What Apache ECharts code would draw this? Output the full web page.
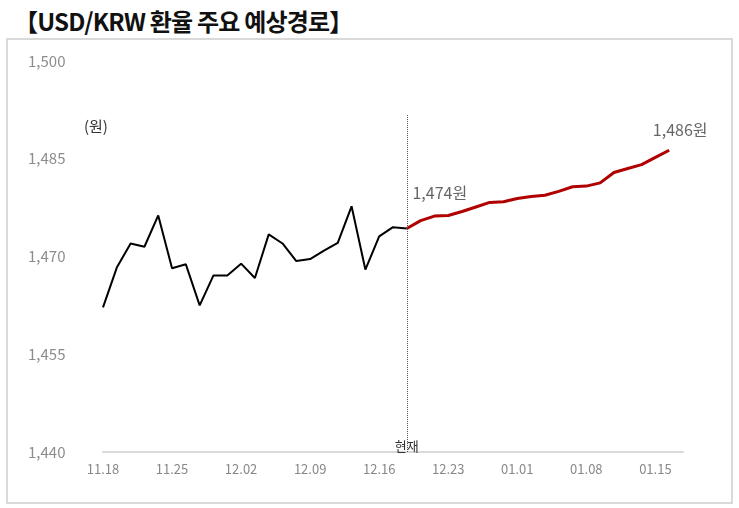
<!DOCTYPE html>
<html>
<head>
<meta charset="utf-8">
<script src="https://cdn.jsdelivr.net/npm/echarts@6/dist/echarts.min.js"></script>
<style>
body{margin:0;background:#fff;font-family:"Noto Sans CJK KR","Noto Sans",sans-serif;}
.title{position:absolute;left:14px;top:3px;font-size:24px;font-weight:600;color:#111;letter-spacing:-0.8px;}
.box{position:absolute;left:6px;top:38px;width:727px;height:466px;border:2px solid #d9d9d9;box-sizing:border-box;}
#chart{position:absolute;left:0;top:0;width:739px;height:508px;}
</style>
</head>
<body>
<div class="title">【USD/KRW 환율 주요 예상경로】</div>
<div class="box"></div>
<div id="chart"></div>
<script>
// x축 눈금 (5영업일마다)
var tickLabels=['11.18','11.25','12.02','12.09','12.16','12.23','01.01','01.08','01.15'];
// 실제 환율 (11.18 ~ 12.18)
var actual=[1462.2,1468.3,1472.0,1471.5,1476.3,1468.2,1468.8,1462.5,1467.1,1467.1,
	1468.9,1466.7,1473.4,1472.0,1469.3,1469.6,1470.9,1472.1,1477.7,1468.0,
	1473.1,1474.5,1474.3];
// 예상경로
var forecast=[1474.3,1475.5,1476.2,1476.3,1476.9,1477.6,1478.3,1478.4,1478.9,1479.2,
	1479.4,1480.0,1480.7,1480.8,1481.3,1482.9,1483.5,1484.1,1485.2,1486.3];
var nowIndex=22;
var total=43;

var cats=[],actData=[],fcData=[];
for(var i=0;i<total;i++){
	cats.push(i%5==0 ? (tickLabels[i/5]||'') : '');
	actData.push(i<actual.length ? actual[i] : '-');
	fcData.push(i>=nowIndex && i-nowIndex<forecast.length ? forecast[i-nowIndex] : '-');
}

var chart=echarts.init(document.getElementById('chart'));
var option={
	animation:false,
	grid:{left:103,right:56,top:61,bottom:56},
	xAxis:{
		type:'category',
		data:cats,
		boundaryGap:false,
		axisLine:{lineStyle:{color:'#d9d9d9',width:2}},
		axisTick:{show:false},
		axisLabel:{interval:0,color:'#888',fontSize:13,margin:11,fontFamily:'Noto Sans CJK KR'}
	},
	yAxis:{
		type:'value',min:1440,max:1500,interval:15,
		splitLine:{show:false},
		axisLine:{show:false},
		axisTick:{show:false},
		axisLabel:{color:'#8c8c8c',fontSize:15,align:'left',margin:75,fontFamily:'Noto Sans CJK KR',
			formatter:function(v){return v.toLocaleString('en-US');}}
	},
	graphic:[
		{type:'text',left:84,top:119,style:{text:'(원)',fontSize:15,fill:'#333',fontFamily:'Noto Sans CJK KR'}}
	],
	series:[
		{
			type:'line',data:actData,symbol:'none',
			lineStyle:{color:'#000',width:2},
			markLine:{
				symbol:'none',silent:true,
				label:{show:true,position:'start',formatter:'현재',color:'#333',fontSize:13,distance:-12,fontFamily:'Noto Sans CJK KR'},
				lineStyle:{color:'#555',type:'dotted',width:1},
				data:[[{coord:[nowIndex,1440]},{coord:[nowIndex,1491.8]}]]
			}
		},
		{
			type:'line',data:fcData,symbol:'none',
			lineStyle:{color:'#b00000',width:3},
			markPoint:{
				symbol:'circle',symbolSize:0,
				label:{show:true,color:'#666',fontSize:16,fontFamily:'Noto Sans CJK KR',
					formatter:function(p){return p.value.toLocaleString('en-US',{maximumFractionDigits:0})+'원';}},
				data:[
					{coord:[nowIndex,forecast[0]],value:1474,label:{offset:[33,-36]}},
					{coord:[nowIndex+forecast.length-1,forecast[forecast.length-1]],value:1486,label:{offset:[11,-20]}}
				]
			}
		}
	]
};
chart.setOption(option);
</script>
</body>
</html>
